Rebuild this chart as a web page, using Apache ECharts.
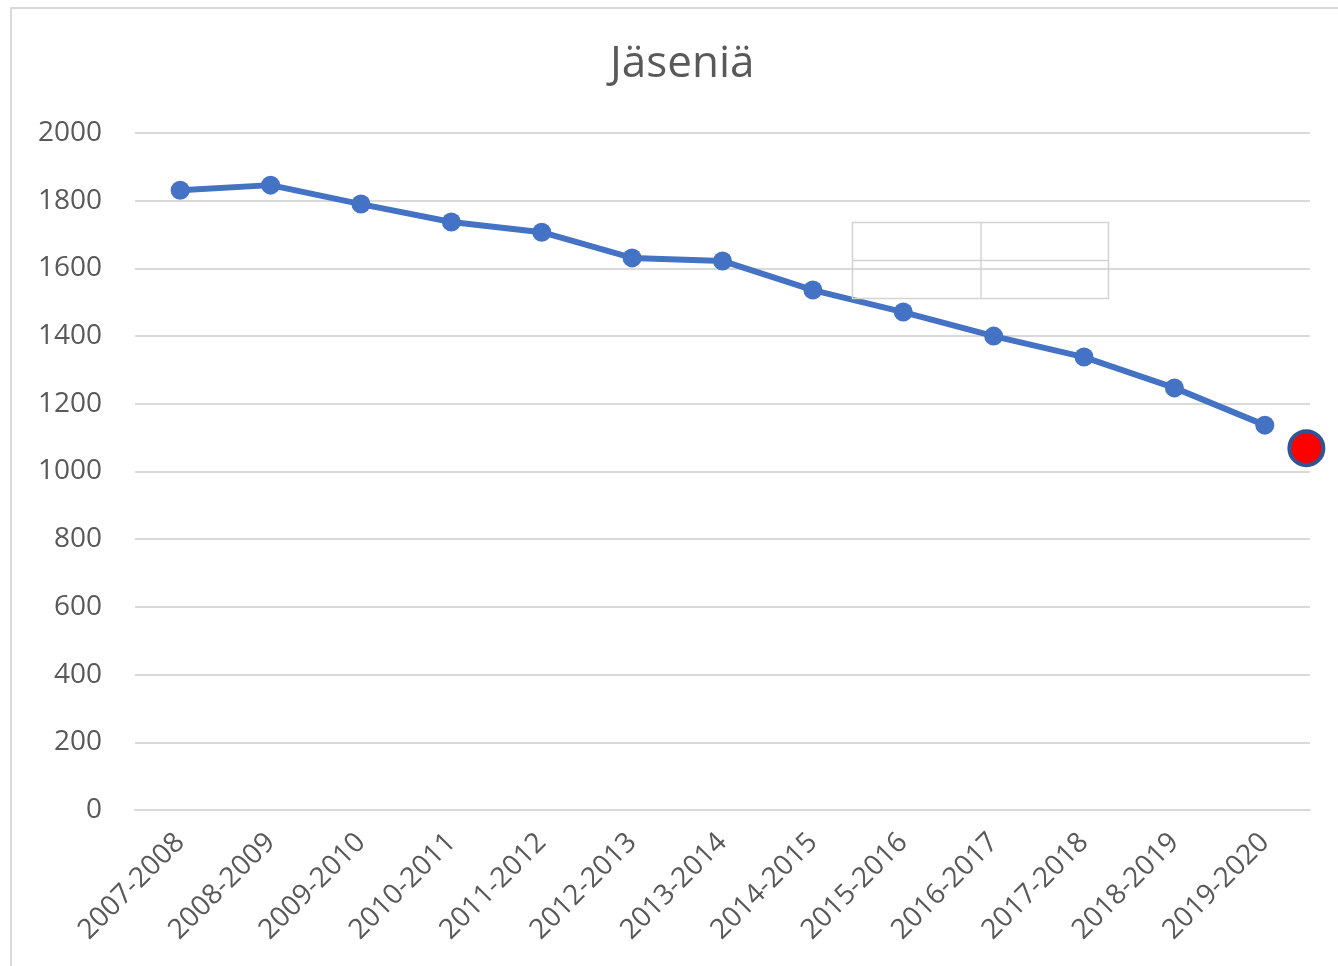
<!DOCTYPE html>
<html>
<head>
<meta charset="utf-8">
<script src="https://cdn.jsdelivr.net/npm/echarts@6/dist/echarts.min.js"></script>
<style>html,body{margin:0;padding:0;background:#fff;}#c{width:1338px;height:966px;}</style>
</head>
<body>
<div id="c"></div>
<script>
const categories = ['2007-2008','2008-2009','2009-2010','2010-2011','2011-2012','2012-2013','2013-2014','2014-2015','2015-2016','2016-2017','2017-2018','2018-2019','2019-2020'];
const members = [1831, 1846, 1790, 1737, 1707, 1631, 1622, 1536, 1471, 1400, 1338, 1247, 1137];
const highlightPoint = [[12.96, 1069]];
const yTicks = {min: 0, max: 2000, interval: 200};

const chart = echarts.init(document.getElementById('c'));
const grey = '#d9d9d9';
const txt = '#595959';
const font = '"Open Sans", "Noto Sans", sans-serif';
chart.setOption({
  animation: false,
  backgroundColor: '#fff',
  title: {
    text: 'Jäseniä', left: 605, top: 37,
    textStyle: {fontFamily: font, fontSize: 44, fontWeight: 'normal', color: txt}
  },
  grid: {left: 135, right: 28, top: 133, bottom: 156, containLabel: false},
  xAxis: [{
    type: 'category', data: categories, boundaryGap: true,
    axisLine: {show: true, lineStyle: {color: grey, width: 2}},
    axisTick: {show: false},
    axisLabel: {rotate: 45, margin: 28, fontFamily: font, fontSize: 28, color: txt, interval: 0}
  }, {
    type: 'value', min: 0, max: 13, show: false
  }],
  yAxis: {
    type: 'value', min: yTicks.min, max: yTicks.max, interval: yTicks.interval,
    axisLine: {show: false}, axisTick: {show: false},
    axisLabel: {margin: 33, fontFamily: font, fontSize: 28, color: txt, formatter: v => String(v)},
    splitLine: {lineStyle: {color: grey, width: 2}}
  },
  series: [{
    type: 'line', data: members, xAxisIndex: 0,
    symbol: 'circle', symbolSize: 19,
    lineStyle: {color: '#4472c4', width: 6},
    itemStyle: {color: '#4472c4'}
  }, {
    type: 'scatter', data: highlightPoint, xAxisIndex: 1,
    symbol: 'circle', symbolSize: 34,
    itemStyle: {color: '#ff0000', borderColor: '#2f5597', borderWidth: 4, opacity: 1}
  }],
  graphic: [
    {type: 'rect', shape: {x: 11, y: 8, width: 1400, height: 1000}, style: {fill: 'none', stroke: '#d9d9d9', lineWidth: 2}, silent: true, z: -1},
    {type: 'rect', shape: {x: 852.5, y: 222.5, width: 256, height: 76}, style: {fill: 'none', stroke: '#d3d3d3', lineWidth: 1.5}, silent: true, z: 100},
    {type: 'line', shape: {x1: 981, y1: 222, x2: 981, y2: 298}, style: {stroke: '#d3d3d3', lineWidth: 1.5}, silent: true, z: 100},
    {type: 'line', shape: {x1: 852, y1: 260.5, x2: 1109, y2: 260.5}, style: {stroke: '#d3d3d3', lineWidth: 1.5}, silent: true, z: 100}
  ]
});
</script>
</body>
</html>
